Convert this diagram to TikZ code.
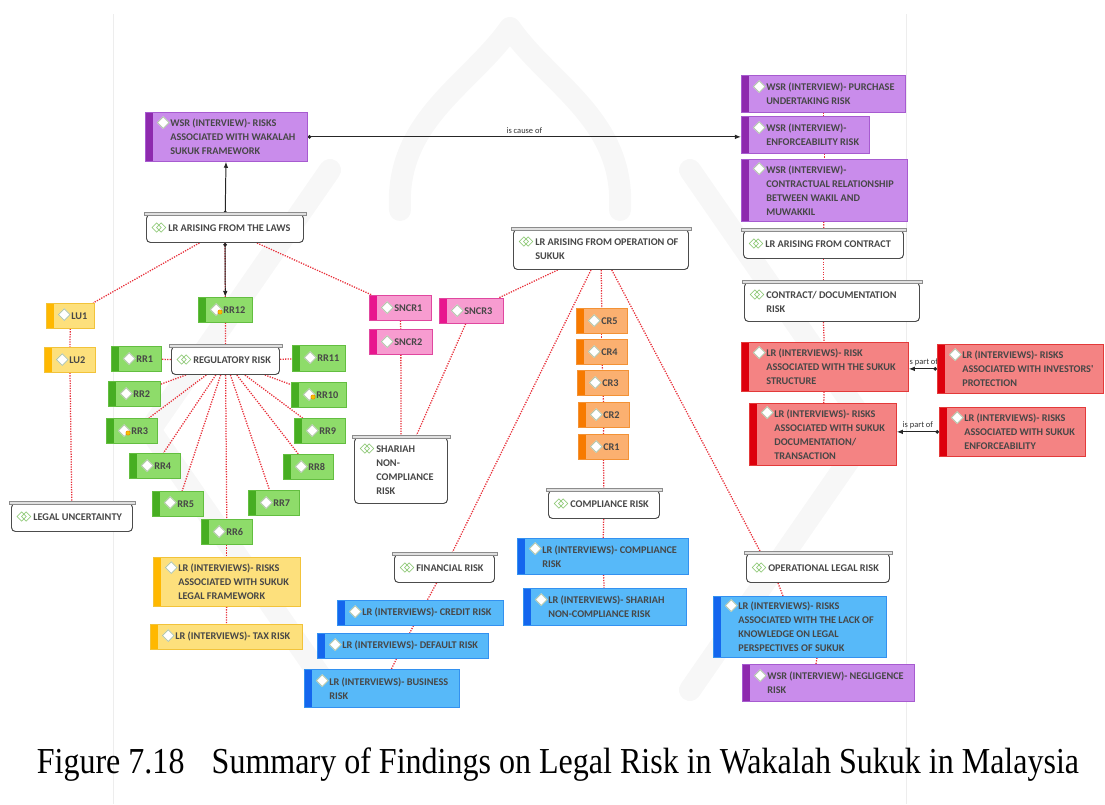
\documentclass[tikz,border=0pt]{standalone}
\usepackage{fontspec}
\usepackage{xcolor}
\usetikzlibrary{arrows,arrows.meta,shapes,backgrounds,positioning}
\setmainfont{Liberation Serif}
\newfontfamily\boxfont{Carlito}
\newfontfamily\symfont{DejaVu Sans}

\definecolor{wsrfill}{HTML}{C98CEB}\definecolor{wsrbar}{HTML}{8E2AAE}\definecolor{wsrline}{HTML}{A75BD0}
\definecolor{lufill}{HTML}{FDE07C}\definecolor{luhead}{HTML}{FFB800}\definecolor{luline}{HTML}{F2C33A}
\definecolor{gfill}{HTML}{8EDC6A}\definecolor{gbar}{HTML}{47AE22}\definecolor{gline}{HTML}{63BE40}
\definecolor{pfill}{HTML}{F79CD0}\definecolor{pbar}{HTML}{E8168E}\definecolor{pline}{HTML}{E0479F}
\definecolor{ofill}{HTML}{FBB070}\definecolor{obar}{HTML}{F77A00}\definecolor{oline}{HTML}{F39235}
\definecolor{bfill}{HTML}{57B9F9}\definecolor{bbar}{HTML}{1466EE}\definecolor{bline}{HTML}{3391F0}
\definecolor{rfill}{HTML}{F48383}\definecolor{rbar}{HTML}{DD000C}\definecolor{rline}{HTML}{E33A3A}
\definecolor{linkred}{HTML}{E8303A}
\definecolor{catgreen}{HTML}{7CC060}
\definecolor{diaedge}{HTML}{A8BFA0}
\definecolor{badge}{HTML}{F2C200}

\newlength{\pix}\setlength{\pix}{0.025cm}
% small icons in front of the first line
\newcommand{\dia}{\llap{\smash{\raisebox{-0.6pt}{\symfont\fontsize{12}{12}\selectfont\rlap{\color{white}◆}\color{diaedge}◇}}\kern0.5\pix}}
\newcommand{\caticon}{\llap{\smash{\symfont\fontsize{9.5}{9.5}\selectfont\color{catgreen}◇\kern-0.45em◇}\kern2\pix}}

\begin{document}
\begin{tikzpicture}[x=0.025cm, y=-0.025cm]
        \tikzstyle{item}=[rectangle, anchor=north west, inner sep=0pt, line width=0.5pt]
        \tikzstyle{side}=[path picture={\fill[#1] (path picture bounding box.north west) rectangle ([xshift=8\pix]path picture bounding box.south west);}]
        \tikzstyle{wsr}=[item, fill=wsrfill, draw=wsrline, side=wsrbar]
        \tikzstyle{lu}=[item, fill=lufill, draw=luline, side=luhead]
        \tikzstyle{rr}=[item, fill=gfill, draw=gline, side=gbar]
        \tikzstyle{sn}=[item, fill=pfill, draw=pline, side=pbar]
        \tikzstyle{cr}=[item, fill=ofill, draw=oline, side=obar]
        \tikzstyle{lr}=[item, fill=bfill, draw=bline, side=bbar]
        \tikzstyle{ct}=[item, fill=rfill, draw=rline, side=rbar]
        \tikzstyle{cat}=[rectangle, anchor=north west, inner sep=0pt, fill=white, draw=black!70, line width=0.7pt, rounded corners=4\pix]
        \tikzstyle{lid}=[fill=black!12, draw=black!45, line width=0.4pt]
        \tikzstyle{txt}=[anchor=west, xshift=25\pix, align=left, inner sep=0pt, text=black!72, font=\boxfont\bfseries\fontsize{7.3}{10}\selectfont]
        \tikzstyle{cattxt}=[txt, xshift=-3\pix]
        \tikzstyle{link}=[draw=linkred, line width=0.9pt, dash pattern=on 0.9pt off 0.9pt]
        \tikzstyle{connect}=[{Circle[length=2.5pt]}-{Latex[length=4.3pt]}, draw=black!85, line width=0.7pt]
        \tikzstyle{rel}=[font=\boxfont\fontsize{6}{7}\selectfont, text=black!80, above, inner sep=2pt]
        \tikzstyle{wmark}=[draw=black!3, line width=22\pix, line join=round, line cap=round]
        \useasboundingbox (0,0) rectangle (1105,804);

        % WSR boxes
        \node[wsr, minimum width=162*\pix, minimum height=49*\pix, label={[txt]west:{\dia WSR (INTERVIEW)- RISKS\\ASSOCIATED WITH WAKALAH\\SUKUK FRAMEWORK}}] (wsrframe) at (145,112) {};
        \node[wsr, minimum width=164*\pix, minimum height=37*\pix, label={[txt]west:{\dia WSR (INTERVIEW)- PURCHASE\\UNDERTAKING RISK}}] (purchase) at (741,75) {};
        \node[wsr, minimum width=128*\pix, minimum height=37*\pix, label={[txt]west:{\dia WSR (INTERVIEW)-\\ENFORCEABILITY RISK}}] (enforce) at (741,116) {};
        \node[wsr, minimum width=166*\pix, minimum height=62*\pix, label={[txt]west:{\dia WSR (INTERVIEW)-\\CONTRACTUAL RELATIONSHIP\\BETWEEN WAKIL AND\\MUWAKKIL}}] (relation) at (741,159) {};
        \node[wsr, minimum width=172*\pix, minimum height=37*\pix, label={[txt]west:{\dia WSR (INTERVIEW)- NEGLIGENCE\\RISK}}] (negligence) at (742,664) {};

        % categories
        \node[cat, minimum width=157*\pix, minimum height=28*\pix, label={[cattxt]west:{\caticon LR ARISING FROM THE LAWS}}] (laws) at (146,214) {};
        \node[cat, minimum width=175*\pix, minimum height=40*\pix, label={[cattxt]west:{\caticon LR ARISING FROM OPERATION OF\\SUKUK}}] (opsukuk) at (513,229) {};
        \node[cat, minimum width=160*\pix, minimum height=28*\pix, label={[cattxt]west:{\caticon LR ARISING FROM CONTRACT}}] (lrcontract) at (743,230) {};
        \node[cat, minimum width=175*\pix, minimum height=39*\pix, label={[cattxt]west:{\caticon CONTRACT/ DOCUMENTATION\\RISK}}] (docrisk) at (744,282) {};
        \node[cat, minimum width=108*\pix, minimum height=28*\pix, label={[cattxt]west:{\caticon REGULATORY RISK}}] (regulatory) at (171,346) {};
        \node[cat, minimum width=121*\pix, minimum height=28*\pix, label={[cattxt]west:{\caticon LEGAL UNCERTAINTY}}] (uncertainty) at (11,503) {};
        \node[cat, minimum width=93*\pix, minimum height=66*\pix, label={[cattxt]west:{\caticon SHARIAH\\NON-\\COMPLIANCE\\RISK}}] (shariah) at (354,437) {};
        \node[cat, minimum width=111*\pix, minimum height=28*\pix, label={[cattxt]west:{\caticon COMPLIANCE RISK}}] (compliance) at (548,490) {};
        \node[cat, minimum width=100*\pix, minimum height=28*\pix, label={[cattxt]west:{\caticon FINANCIAL RISK}}] (financial) at (394,554) {};
        \node[cat, minimum width=143*\pix, minimum height=29*\pix, label={[cattxt]west:{\caticon OPERATIONAL LEGAL RISK}}] (oplegal) at (746,553) {};
        \foreach \n in {laws,opsukuk,lrcontract,docrisk,regulatory,uncertainty,shariah,compliance,financial,oplegal}
          \draw[lid] ([xshift=-2\pix,yshift=1.5\pix]\n.north west) rectangle ([xshift=2\pix,yshift=-1.5\pix]\n.north east);

        % contract risk
        \node[ct, minimum width=167*\pix, minimum height=49*\pix, label={[txt]west:{\dia LR (INTERVIEWS)- RISK\\ASSOCIATED WITH THE SUKUK\\STRUCTURE}}] (structure) at (741,342) {};
        \node[ct, minimum width=166*\pix, minimum height=49*\pix, label={[txt]west:{\dia LR (INTERVIEWS)- RISKS\\ASSOCIATED WITH INVESTORS'\\PROTECTION}}] (investors) at (937,344) {};
        \node[ct, minimum width=147*\pix, minimum height=62*\pix, label={[txt]west:{\dia LR (INTERVIEWS)- RISKS\\ASSOCIATED WITH SUKUK\\DOCUMENTATION/\\TRANSACTION}}] (documentation) at (749,403) {};
        \node[ct, minimum width=146*\pix, minimum height=49*\pix, label={[txt]west:{\dia LR (INTERVIEWS)- RISKS\\ASSOCIATED WITH SUKUK\\ENFORCEABILITY}}] (enforceab) at (939,407) {};

        % legal uncertainty
        \node[lu, minimum width=48*\pix, minimum height=25*\pix, label={[txt]west:{\dia LU1}}] (lu1) at (46,303) {};
        \node[lu, minimum width=51*\pix, minimum height=25*\pix, label={[txt]west:{\dia LU2}}] (lu2) at (44,347) {};
        \node[lu, minimum width=147*\pix, minimum height=49*\pix, label={[txt]west:{\dia LR (INTERVIEWS)- RISKS\\ASSOCIATED WITH SUKUK\\LEGAL FRAMEWORK}}] (framework) at (153,557) {};
        \node[lu, minimum width=152*\pix, minimum height=25*\pix, label={[txt]west:{\dia LR (INTERVIEWS)- TAX RISK}}] (tax) at (150,624) {};

        % regulatory risk
        \node[rr, minimum width=54*\pix, minimum height=25*\pix, label={[txt]west:{\dia RR12}}] (rr12) at (198,297) {};
        \node[rr, minimum width=50*\pix, minimum height=25*\pix, label={[txt]west:{\dia RR1}}] (rr1) at (111,346) {};
        \node[rr, minimum width=52*\pix, minimum height=25*\pix, label={[txt]west:{\dia RR2}}] (rr2) at (108,381) {};
        \node[rr, minimum width=51*\pix, minimum height=25*\pix, label={[txt]west:{\dia RR3}}] (rr3) at (106,418) {};
        \node[rr, minimum width=51*\pix, minimum height=25*\pix, label={[txt]west:{\dia RR4}}] (rr4) at (129,453) {};
        \node[rr, minimum width=51*\pix, minimum height=25*\pix, label={[txt]west:{\dia RR5}}] (rr5) at (152,491) {};
        \node[rr, minimum width=51*\pix, minimum height=25*\pix, label={[txt]west:{\dia RR6}}] (rr6) at (201,519) {};
        \node[rr, minimum width=51*\pix, minimum height=25*\pix, label={[txt]west:{\dia RR7}}] (rr7) at (248,490) {};
        \node[rr, minimum width=50*\pix, minimum height=25*\pix, label={[txt]west:{\dia RR8}}] (rr8) at (283,454) {};
        \node[rr, minimum width=51*\pix, minimum height=25*\pix, label={[txt]west:{\dia RR9}}] (rr9) at (294,418) {};
        \node[rr, minimum width=55*\pix, minimum height=25*\pix, label={[txt]west:{\dia RR10}}] (rr10) at (291,382) {};
        \node[rr, minimum width=53*\pix, minimum height=26*\pix, label={[txt]west:{\dia RR11}}] (rr11) at (292,345) {};
        \foreach \n in {rr12,rr3,rr10}
          \fill[badge, draw=obar, line width=0.3pt] ([shift={(22,15)}]\n.north west) circle[radius=2.2];

        % shariah non-compliance
        \node[sn, minimum width=62*\pix, minimum height=25*\pix, label={[txt]west:{\dia SNCR1}}] (sncr1) at (369,295) {};
        \node[sn, minimum width=63*\pix, minimum height=25*\pix, label={[txt]west:{\dia SNCR2}}] (sncr2) at (369,329) {};
        \node[sn, minimum width=64*\pix, minimum height=25*\pix, label={[txt]west:{\dia SNCR3}}] (sncr3) at (439,298) {};

        % compliance risk
        \node[cr, minimum width=51*\pix, minimum height=25*\pix, label={[txt]west:{\dia CR5}}] (cr5) at (576,308) {};
        \node[cr, minimum width=51*\pix, minimum height=25*\pix, label={[txt]west:{\dia CR4}}] (cr4) at (576,339) {};
        \node[cr, minimum width=51*\pix, minimum height=25*\pix, label={[txt]west:{\dia CR3}}] (cr3) at (577,370) {};
        \node[cr, minimum width=51*\pix, minimum height=25*\pix, label={[txt]west:{\dia CR2}}] (cr2) at (578,402) {};
        \node[cr, minimum width=50*\pix, minimum height=25*\pix, label={[txt]west:{\dia CR1}}] (cr1) at (578,434) {};

        % interview findings
        \node[lr, minimum width=171*\pix, minimum height=36*\pix, label={[txt]west:{\dia LR (INTERVIEWS)- COMPLIANCE\\RISK}}] (lrcompliance) at (517,538) {};
        \node[lr, minimum width=163*\pix, minimum height=37*\pix, label={[txt]west:{\dia LR (INTERVIEWS)- SHARIAH\\NON-COMPLIANCE RISK}}] (lrshariah) at (523,588) {};
        \node[lr, minimum width=166*\pix, minimum height=25*\pix, label={[txt]west:{\dia LR (INTERVIEWS)- CREDIT RISK}}] (credit) at (337,600) {};
        \node[lr, minimum width=171*\pix, minimum height=25*\pix, label={[txt]west:{\dia LR (INTERVIEWS)- DEFAULT RISK}}] (default) at (317,633) {};
        \node[lr, minimum width=155*\pix, minimum height=38*\pix, label={[txt]west:{\dia LR (INTERVIEWS)- BUSINESS\\RISK}}] (business) at (304,669) {};
        \node[lr, minimum width=173*\pix, minimum height=61*\pix, label={[txt]west:{\dia LR (INTERVIEWS)- RISKS\\ASSOCIATED WITH THE LACK OF\\KNOWLEDGE ON LEGAL\\PERSPECTIVES OF SUKUK}}] (lack) at (713,596) {};

        \node[font=\fontsize{26}{30}\selectfont] (caption) at (558,765) {\scalebox{0.876}[1]{Figure 7.18\hspace{0.6em} Summary of Findings on Legal Risk in Wakalah Sukuk in Malaysia}};

        \begin{scope}[on background layer]
          % faint emblem behind the map
          \draw[wmark] (400,210) .. controls (395,120) and (470,85) .. (510,28) .. controls (550,85) and (625,120) .. (620,210);
          \draw[wmark] (330,170) -- (150,430) -- (330,690);
          \draw[wmark] (690,170) -- (870,430) -- (690,690);
          \draw[black!7, line width=0.5pt] (113,14) -- (113,804) (906,14) -- (906,804);

          \path (laws) edge [link] (lu1)
                (lu1) edge [link] (lu2)
                (lu2) edge [link] (uncertainty)
                (laws) edge [link] (sncr1)
                (laws) edge [link] (rr12)
                (rr12) edge [link] (regulatory)
                (sncr1) edge [link] (sncr2)
                (sncr2) edge [link] (shariah)
                (sncr3) edge [link] (shariah)
                (opsukuk) edge [link] (sncr3)
                (opsukuk) edge [link] (cr5)
                (cr5) edge [link] (cr4)
                (cr4) edge [link] (cr3)
                (cr3) edge [link] (cr2)
                (cr2) edge [link] (cr1)
                (cr1) edge [link] (compliance)
                (compliance) edge [link] (lrcompliance)
                (lrcompliance) edge [link] (lrshariah)
                (opsukuk) edge [link] (financial)
                (financial) edge [link] (credit)
                (credit) edge [link] (default)
                (default) edge [link] (business)
                (opsukuk) edge [link] ([xshift=15\pix]oplegal.north west)
                ([xshift=32\pix]oplegal.south west) edge [link] ([xshift=70\pix]lack.north west)
                ([xshift=104\pix]lack.south west) edge [link] ([xshift=74\pix]negligence.north west)
                (rr6) edge [link] (framework)
                (framework) edge [link] (tax)
                (purchase.south) edge [link] (purchase.south |- enforce.north)
                (relation.north |- enforce.south) edge [link] (relation.north)
                (relation) edge [link] (lrcontract)
                (lrcontract.south) edge [link] (lrcontract.south |- docrisk.north)
                (lrcontract.south |- docrisk.south) edge [link] (structure)
                (structure) edge [link] (documentation);
          \foreach \r in {rr1,rr2,rr3,rr4,rr5,rr6,rr7,rr8,rr9,rr10,rr11}
            \path (regulatory) edge [link] (\r);

          \path (laws) edge [connect] (wsrframe)
                (laws) edge [connect] (rr12)
                (wsrframe.east) edge [connect] node[rel] {is cause of} (wsrframe.east -| enforce.west)
                (investors.west) edge [connect] node[rel] {is part of} (investors.west -| structure.east)
                (enforceab.west) edge [connect] node[rel] {is part of} (enforceab.west -| documentation.east);
        \end{scope}
\end{tikzpicture}
\end{document}
